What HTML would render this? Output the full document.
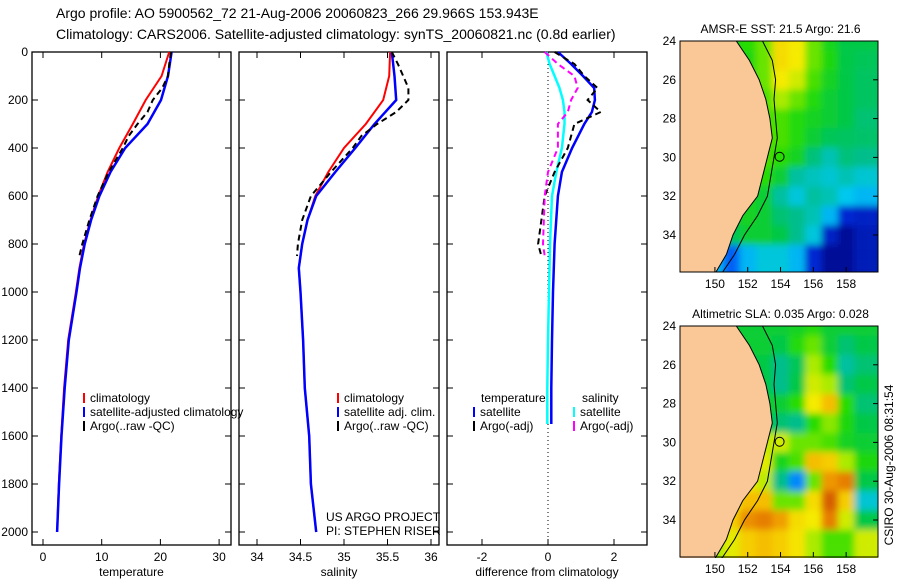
<!DOCTYPE html>
<html><head><meta charset="utf-8"><style>
body{margin:0;background:#fff;}
svg{display:block;font-family:"Liberation Sans",sans-serif;}
</style></head><body>
<svg id="fig" width="900" height="580" viewBox="0 0 900 580">
<defs>
<filter id="blur" x="-10%" y="-10%" width="120%" height="120%"><feGaussianBlur stdDeviation="3.5"/></filter>
<clipPath id="clipA"><rect x="680" y="41" width="198" height="231"/></clipPath>
<clipPath id="clipB"><rect x="680" y="326" width="198" height="232"/></clipPath>
</defs>
<text x="56" y="18" font-size="14">Argo profile: AO 5900562_72 21-Aug-2006 20060823_266 29.966S 153.943E</text>
<text x="56" y="39" font-size="14">Climatology: CARS2006. Satellite-adjusted climatology: synTS_20060821.nc (0.8d earlier)</text>
</svg>
<script>
// ---- profile data ----
const depthClim = [0,100,200,300,400,500,600,700,800,900,1000,1200,1400,1600,1800,2000];
const climT = [21.5,20.2,17.5,15.3,13.0,11.0,9.4,8.1,7.0,6.2,5.6,4.3,3.6,3.1,2.7,2.4];
const satT  = [21.9,21.3,20.1,17.8,14.0,11.5,9.6,8.2,7.1,6.3,5.7,4.4,3.7,3.15,2.75,2.4];
const climS = [35.53,35.52,35.45,35.25,35.0,34.82,34.67,34.58,34.52,34.48,34.5,34.53,34.55,34.6,34.62,34.68];
const satS  = [35.55,35.58,35.6,35.35,35.13,34.9,34.68,34.58,34.52,34.48,34.5,34.53,34.55,34.6,34.62,34.68];
const depthArgo = [0,50,100,150,200,250,300,350,400,500,600,700,800,850];
const argoT = [21.8,21.5,21.3,20.3,18.7,17.8,16.1,14.6,13.6,11.2,9.3,7.9,6.7,6.2];
const argoS = [35.55,35.62,35.68,35.74,35.74,35.6,35.38,35.2,35.1,34.85,34.62,34.52,34.47,34.46];
const diffDepth = [0,50,100,150,200,250,300,400,500,600,800,1000,1200,1400,1550];
const diffSatT = [0.3,0.7,1.06,1.4,1.42,1.33,1.1,0.73,0.42,0.3,0.2,0.15,0.12,0.1,0.1];
const diffSatS = [-0.05,0.05,0.2,0.35,0.45,0.5,0.5,0.42,0.25,0.12,0.06,0.03,0.0,-0.02,-0.02];
const diffArgoT = [0.2,0.8,1.1,1.5,1.2,1.6,0.8,0.6,0.2,-0.1,-0.3,-0.2];
const diffArgoS = [-0.1,0.3,0.8,0.9,0.7,0.6,0.3,0.3,0.0,-0.1,-0.15,-0.1];
const diffArgoDepth = [0,50,100,150,200,250,300,400,500,600,800,850];
const depthTicks = [0,200,400,600,800,1000,1200,1400,1600,1800,2000];
const tTicks = [0,10,20,30];
const sTicks = [34,34.5,35,35.5,36];
const sTickLabels = ["34","34.5","35","35.5","36"];
const dTicks = [-2,0,2];
// ---- map data (rows lat 24..35 S, cols lon 148..159 E), normalised 0..1 ----
const sstGrid = [
[.55,.55,.55,.55,.58,.62,.76,.74,.62,.55,.5,.5],
[.55,.55,.55,.55,.56,.62,.76,.74,.62,.56,.5,.48],
[.55,.55,.55,.55,.55,.62,.74,.7,.6,.54,.5,.47],
[.55,.55,.55,.55,.55,.6,.66,.62,.57,.52,.5,.47],
[.56,.56,.56,.56,.56,.6,.6,.57,.54,.52,.5,.45],
[.56,.56,.56,.56,.56,.6,.6,.57,.52,.48,.47,.46],
[.56,.56,.56,.56,.56,.6,.58,.54,.44,.38,.44,.42],
[.56,.56,.56,.56,.56,.58,.52,.4,.37,.35,.38,.35],
[.52,.52,.52,.52,.54,.52,.4,.34,.4,.38,.32,.3],
[.52,.52,.52,.52,.54,.52,.45,.42,.38,.3,.12,.1],
[.48,.48,.48,.48,.52,.52,.5,.42,.34,.1,.03,.08],
[.3,.3,.3,.2,.3,.34,.34,.3,.12,.03,.03,.08]];
const slaGrid = [
[.52,.52,.52,.52,.52,.52,.52,.54,.57,.52,.52,.52],
[.52,.52,.52,.52,.52,.52,.5,.57,.62,.52,.45,.5],
[.52,.52,.52,.52,.52,.5,.42,.48,.66,.58,.4,.45],
[.52,.52,.52,.52,.52,.5,.42,.5,.7,.66,.45,.5],
[.52,.52,.52,.52,.52,.52,.52,.58,.74,.8,.58,.45],
[.52,.52,.52,.52,.52,.5,.45,.42,.58,.64,.56,.5],
[.6,.6,.6,.6,.62,.68,.7,.62,.62,.6,.54,.52],
[.68,.68,.68,.68,.7,.72,.55,.6,.8,.78,.66,.56],
[.7,.7,.7,.7,.74,.68,.42,.25,.62,.85,.88,.5],
[.7,.7,.7,.74,.8,.8,.62,.62,.76,.92,.78,.35],
[.7,.7,.7,.78,.86,.88,.84,.76,.74,.88,.7,.5],
[.65,.65,.65,.72,.78,.8,.78,.75,.66,.6,.6,.7]];
const coastLat = [24,25,26,27,28,29,30,31,32,33,34,35,36];
const coastLon = [151.3,152.1,152.7,153.1,153.35,153.5,153.2,152.9,152.6,151.7,151.1,150.7,150.0];
const shelfLon = [152.9,153.5,153.7,153.6,153.7,153.8,153.6,153.4,153.2,152.6,151.8,151.2,150.4];
const lonTicks = [150,152,154,156,158];
const latTicks = [24,26,28,30,32,34];
const argoLon = 153.943, argoLat = 29.966;

const svg = document.getElementById('fig');
const NS = 'http://www.w3.org/2000/svg';
function mk(tag, attrs, parent){const e=document.createElementNS(NS,tag);for(const k in attrs)e.setAttribute(k,attrs[k]);(parent||svg).appendChild(e);return e;}
function txt(x,y,s,size,anchor,parent){const t=mk('text',{x:x,y:y,'font-size':size||12,'text-anchor':anchor||'start'},parent);t.textContent=s;return t;}

const yD = d => 52 + d*0.24;
const px1 = t => 43 + t*5.87;
const px2 = s => 257 + (s-34)*87;
const px3 = v => 548 + v*33;
const pTop=52, pBot=545;

function panel(x0,x1,name,xt,xl,xfun,xlabel,showY){
  const g=mk('g',{});
  
  
  const r=mk('rect',{x:x0,y:pTop,width:x1-x0,height:pBot-pTop,fill:'none',stroke:'#000','stroke-width':1.3},g);
  
  
  xt.forEach((v,i)=>{const x=xfun(v);
    mk('line',{x1:x,x2:x,y1:pTop,y2:pTop+6,stroke:'#000'},g);
    mk('line',{x1:x,x2:x,y1:pBot,y2:pBot-6,stroke:'#000'},g);
    const t=txt(x,561,xl[i],12,'middle',g);
    
    
  });
  depthTicks.forEach(d=>{const y=yD(d);
    mk('line',{x1:x0,x2:x0+6,y1:y,y2:y,stroke:'#000'},g);
    mk('line',{x1:x1,x2:x1-6,y1:y,y2:y,stroke:'#000'},g);
    if(showY){const t=txt(x0-4,y+4,String(d),12,'end',g);
      
      }
  });
  const xl2=txt((x0+x1)/2,576,xlabel,12,'middle',g);
  
  
  return g;
}
function line(depths,vals,xfun,color,w,dash,name){
  const pts=depths.map((d,i)=>xfun(vals[i]).toFixed(1)+','+yD(d).toFixed(1)).join(' ');
  const p=mk('polyline',{points:pts,fill:'none',stroke:color,'stroke-width':w});
  if(dash)p.setAttribute('stroke-dasharray',dash);
  
  
}
panel(32,231,'temperature-panel',tTicks,tTicks.map(String),px1,'temperature',true);
panel(239,439,'salinity-panel',sTicks,sTickLabels,px2,'salinity',false);
panel(447,647,'difference-panel',dTicks,dTicks.map(String),px3,'difference from climatology',false);

line(depthClim,climT,px1,'#f00',2,null,'temp-climatology-line');
line(depthClim,satT,px1,'#00f',2.5,null,'temp-satellite-line');
line(depthArgo,argoT,px1,'#000',2,'6,4','temp-argo-line');
line(depthClim,climS,px2,'#f00',2,null,'sal-climatology-line');
line(depthClim,satS,px2,'#00f',2.5,null,'sal-satellite-line');
line(depthArgo,argoS,px2,'#000',2,'6,4','sal-argo-line');
const zl=mk('line',{x1:px3(0),x2:px3(0),y1:pTop,y2:pBot,stroke:'#000','stroke-dasharray':'1,3'});


line(diffDepth,diffSatT,px3,'#00f',2.5,null,'diff-temp-satellite-line');
line(diffDepth,diffSatS,px3,'#0ff',2.5,null,'diff-sal-satellite-line');
line(diffArgoDepth,diffArgoT,px3,'#000',2,'6,4','diff-temp-argo-line');
line(diffArgoDepth,diffArgoS,px3,'#f0f',2,'6,4','diff-sal-argo-line');

function legendEntry(x,y,color,label,name){
  const g=mk('g',{});
  
  
  if(color)mk('rect',{x:x,y:y-9,width:2,height:10,fill:color},g);
  txt(x+7,y,label,12,'start',g);
}
legendEntry(83,402,'#f00','climatology','legend-climatology');
legendEntry(83,416,'#00f','satellite-adjusted climatology','legend-satellite-adjusted');
legendEntry(83,430,'#000','Argo(..raw -QC)','legend-argo');
legendEntry(337,402,'#f00','climatology','legend-sal-climatology');
legendEntry(337,416,'#00f','satellite adj. clim.','legend-sal-satellite');
legendEntry(337,430,'#000','Argo(..raw -QC)','legend-sal-argo');
legendEntry(474,402,null,'temperature','legend-temperature-heading');
legendEntry(473,416,'#00f','satellite','legend-diff-temp-satellite');
legendEntry(473,430,'#000','Argo(-adj)','legend-diff-temp-argo');
legendEntry(575,402,null,'salinity','legend-salinity-heading');
legendEntry(573,416,'#0ff','satellite','legend-diff-sal-satellite');
legendEntry(573,430,'#f0f','Argo(-adj)','legend-diff-sal-argo');
let t1=txt(326,521,'US ARGO PROJECT',12);


let t2=txt(326,535,'PI: STEPHEN RISER',12);



// ---- maps ----
const stops=[[0,[0,0,130]],[0.12,[0,40,210]],[0.22,[0,110,255]],[0.32,[0,200,240]],[0.42,[0,190,140]],[0.5,[0,200,70]],[0.58,[40,220,0]],[0.66,[170,235,0]],[0.74,[245,235,0]],[0.82,[245,175,0]],[0.9,[225,110,0]],[1,[170,30,0]]];
function cmap(v){for(let i=1;i<stops.length;i++){if(v<=stops[i][0]){const a=stops[i-1],b=stops[i];const f=(v-a[0])/(b[0]-a[0]);
  const c=a[1].map((x,k)=>Math.round(x+(b[1][k]-x)*f));return 'rgb('+c.join(',')+')';}}return 'rgb(170,30,0)';}
const mx = lon => 680 + (lon-147.87)*16.4;
function drawMap(grid,y0,clip,name,title){
  const my = lat => y0 + (lat-24)*19.4;
  const g=mk('g',{});
  
  
  const tt=txt(mx(154),y0-8,title,12,'middle',g);
  
  
  const cg=mk('g',{'clip-path':'url(#'+clip+')'},g);
  const fg=mk('g',{filter:'url(#blur)'},cg);
  for(let r=-1;r<=grid.length;r++){for(let c=-1;c<=grid[0].length;c++){
    const rr=Math.max(0,Math.min(grid.length-1,r)), cc=Math.max(0,Math.min(grid[0].length-1,c));
    const cell=mk('rect',{x:mx(148+c-0.5),y:my(24+r-0.5),width:16.6,height:19.6,fill:cmap(grid[rr][cc])},fg);
    
    
  }}
  let land='M'+mx(140)+','+my(20)+' L'+mx(coastLon[0])+','+my(20);
  coastLat.forEach((la,i)=>{land+=' L'+mx(coastLon[i]).toFixed(1)+','+my(la).toFixed(1);});
  land+=' L'+mx(coastLon[coastLon.length-1]-0.3)+','+my(38)+' L'+mx(140)+','+my(38)+'Z';
  const lp=mk('path',{d:land,fill:'#fac896',stroke:'#000','stroke-width':1},cg);
  
  
  const sp=mk('polyline',{points:coastLat.map((la,i)=>mx(shelfLon[i]).toFixed(1)+','+my(la).toFixed(1)).join(' '),fill:'none',stroke:'#000','stroke-width':1},cg);
  
  
  const ci=mk('circle',{cx:mx(argoLon),cy:my(argoLat),r:4.5,fill:'none',stroke:'#000','stroke-width':1},g);
  
  
  mk('rect',{x:680,y:y0,width:198,height:231,fill:'none',stroke:'#000','stroke-width':1},g);
  lonTicks.forEach(l=>{const x=mx(l);mk('line',{x1:x,x2:x,y1:y0+231,y2:y0+226,stroke:'#000'},g);
    const t=txt(x,y0+247,String(l),12,'middle',g);
    
    });
  latTicks.forEach(l=>{const y=my(l);mk('line',{x1:878,x2:873,y1:y,y2:y,stroke:'#000'},g);
    const t=txt(676,y+4,String(l),12,'end',g);
    
    });
}
drawMap(sstGrid,41,'clipA','sst-map','AMSR-E SST: 21.5 Argo: 21.6');
drawMap(slaGrid,326,'clipB','sla-map','Altimetric SLA: 0.035 Argo: 0.028');
const st=txt(0,0,'CSIRO 30-Aug-2006 08:31:54',12,'middle');
st.setAttribute('transform','translate(893,465) rotate(-90)');


</script>
</body></html>
